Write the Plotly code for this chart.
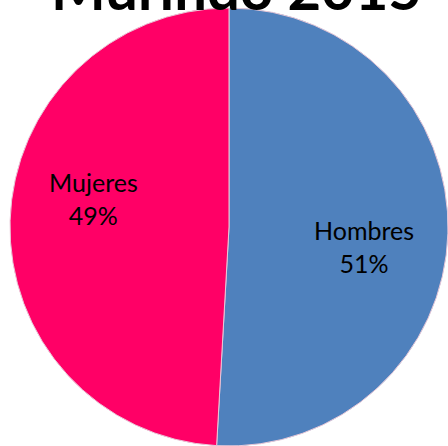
import plotly.graph_objects as go

labels = ["Hombres", "Mujeres"]
values = [50.9, 49.1]
colors = ["#4F81BD", "#FF0066"]
title_text = "Murindó 2015"

W, H = 448, 446
cx, cy, r = 229, 227, 219

fig = go.Figure(go.Pie(
    labels=labels,
    values=values,
    sort=False,
    direction="clockwise",
    rotation=0,
    marker=dict(colors=colors, line=dict(color="#E8C8D8", width=1)),
    textinfo="none",
    showlegend=False,
    hoverinfo="label+percent",
    domain=dict(x=[(cx - r) / W, (cx + r) / W], y=[(H - cy - r) / H, (H - cy + r) / H]),
))

total = sum(values)
label_pos = {"Hombres": (364, 246), "Mujeres": (93, 199)}
for lab, val in zip(labels, values):
    px, py = label_pos[lab]
    fig.add_annotation(
        text=f"{lab}<br>{round(100 * val / total)}%",
        x=px / W, xref="paper", xanchor="center",
        y=(H - py) / H, yref="paper", yanchor="middle",
        showarrow=False, align="center",
        font=dict(family="Lato", size=25, color="#000000"),
    )

fig.add_annotation(
    text="<b>" + title_text + "</b>",
    x=237 / W, xref="paper", xanchor="center",
    y=(H - 12) / H, yref="paper", yanchor="bottom", yshift=-12,
    showarrow=False,
    font=dict(family="Lato", size=58, color="#000000"),
)

fig.update_layout(
    width=W, height=H,
    margin=dict(l=0, r=0, t=0, b=0),
    paper_bgcolor="white",
    plot_bgcolor="white",
)

fig.write_html("out.html", config={"displayModeBar": False},
               post_script="document.body.style.margin='0';")
